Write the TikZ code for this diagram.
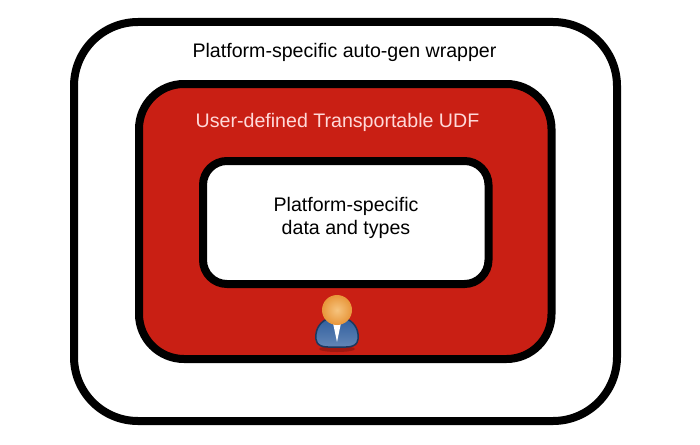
\documentclass[tikz,border=0pt]{standalone}
\usepackage{fontspec}
\setmainfont{Liberation Sans}
\definecolor{udfred}{HTML}{C91F14}
\definecolor{headorange}{HTML}{E8963A}
\definecolor{headlight}{HTML}{F6C47E}
\definecolor{suitblue}{HTML}{2F5E9E}
\tikzset{
    box/.style={draw=black, line width=8pt, rounded corners=#1},
    label/.style={font=\fontsize{19.6}{23}\selectfont, align=center, inner sep=0pt}
}
\begin{document}
\begin{tikzpicture}[x=1pt, y=-1pt]
        \useasboundingbox (0, 0) rectangle (700, 444);
        \fill[white] (0, 0) rectangle (700, 444);
        \draw[box=64pt, fill=white] (74, 22) rectangle (617, 421);
        \draw[box=45pt, fill=udfred] (139, 84) rectangle (551.5, 359);
        \draw[box=24pt, fill=white] (203, 161) rectangle (488.5, 284);

        \node[label, text=black] (wrapper) at (344.5, 52.5) {Platform-specific auto-gen wrapper};
        \node[label, text=white!85!red] (udf) at (337.5, 122) {User-defined Transportable UDF};
        \node[label, text=black] (types) at (346, 218) {Platform-specific\\data and types};

        % user icon
        \fill[black, opacity=0.2] (337, 349) ellipse (18 and 3);
        \draw[suitblue!60!black, line width=1.5pt, top color=suitblue, bottom color=suitblue!75!white]
            (328, 347) .. controls (316, 347) and (315, 340) .. (316, 334)
            .. controls (317, 325) and (324, 319) .. (331, 318) -- (343, 318)
            .. controls (350, 319) and (357, 325) .. (358, 334)
            .. controls (359, 340) and (358, 347) .. (346, 347) -- cycle;
        \fill[white] (333, 323) -- (341, 323) -- (337, 342) -- cycle;
        \shade[inner color=headlight, outer color=headorange] (337, 310) circle (15);
\end{tikzpicture}
\end{document}
